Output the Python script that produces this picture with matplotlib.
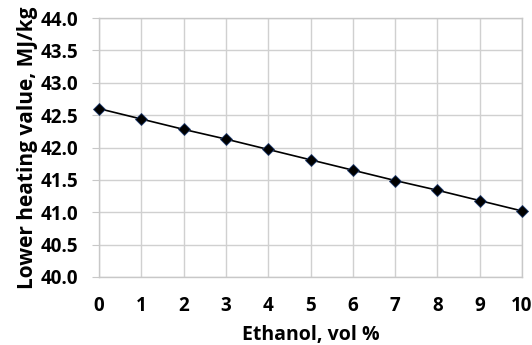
import numpy as np
import matplotlib
matplotlib.use('Agg')
import matplotlib.pyplot as plt

# Data
ethanol = [0, 1, 2, 3, 4, 5, 6, 7, 8, 9, 10]
lhv = [42.60, 42.44, 42.28, 42.13, 41.97, 41.81, 41.65, 41.49, 41.34, 41.18, 41.02]
y_ticks = [40.0, 40.5, 41.0, 41.5, 42.0, 42.5, 43.0, 43.5, 44.0]

plt.rcParams['font.family'] = ['Open Sans', 'DejaVu Sans']
plt.rcParams['font.weight'] = 'bold'

fig = plt.figure(figsize=(5.32, 3.45), dpi=100)
ax = fig.add_axes([99 / 532, 1 - 277 / 345, (522 - 99) / 532, (277 - 18) / 345])

ax.plot(ethanol, lhv, color='black', linewidth=1.2, marker='D', markersize=6,
        markerfacecolor='black', markeredgecolor='#1f3b6e', markeredgewidth=0.6,
        zorder=3, clip_on=False)

ax.set_xlim(0, 10)
ax.set_ylim(40, 44)
ax.set_xticks(ethanol)
ax.set_yticks(y_ticks)
ax.set_yticklabels([f'{v:.1f}' for v in y_ticks])

ax.grid(True, color='#d0d0d0', linewidth=1.0)
ax.set_axisbelow(True)
for side in ['top', 'right', 'left', 'bottom']:
    ax.spines[side].set_color('#c8c8c8')
    ax.spines[side].set_linewidth(1.0)

ax.tick_params(axis='y', length=5, color='#c8c8c8', labelsize=13.5, pad=10)
ax.tick_params(axis='x', length=0, labelsize=13.5, pad=14)

ax.set_xlabel('Ethanol, vol %', fontsize=14, fontweight='bold', labelpad=6)
ax.set_ylabel('Lower heating value, MJ/kg', fontsize=15, fontweight='bold', labelpad=2)

fig.savefig('out.png', dpi=100)
